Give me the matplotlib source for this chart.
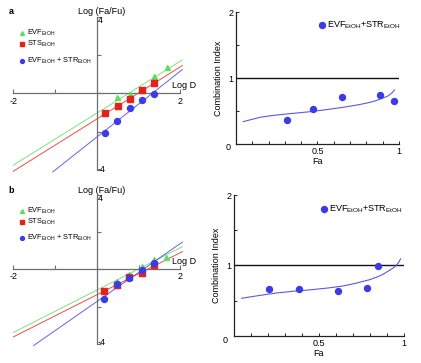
# Median-effect plots and combination index plots (panels a and b)

import numpy as np
import matplotlib.pyplot as plt

plt.rcParams['font.family'] = ['Liberation Sans', 'DejaVu Sans']

# Data
# panel a, median-effect plot: log D vs log(Fa/Fu)
a_evf_x = [0.48, 0.80, 1.08, 1.38, 1.68]
a_evf_y = [-0.21, -0.05, 0.21, 0.88, 1.35]
a_sts_x = [0.20, 0.50, 0.80, 1.08, 1.38]
a_sts_y = [-1.05, -0.67, -0.30, 0.18, 0.53]
a_mix_x = [0.20, 0.48, 0.80, 1.08, 1.38]
a_mix_y = [-2.05, -1.44, -0.75, -0.35, -0.05]

# panel b, median-effect plot
b_evf_x = [0.48, 0.78, 1.08, 1.38, 1.66]
b_evf_y = [-0.61, -0.25, 0.18, 0.54, 0.68]
b_sts_x = [0.18, 0.48, 0.78, 1.08, 1.38]
b_sts_y = [-1.15, -0.86, -0.43, -0.22, 0.23]
b_mix_x = [0.18, 0.48, 0.78, 1.08, 1.38]
b_mix_y = [-1.60, -0.81, -0.49, -0.04, 0.36]

# panel a, combination index
a_ci_fa = [0.314, 0.473, 0.653, 0.886, 0.969]
a_ci = [0.365, 0.53, 0.72, 0.74, 0.65]
a_curve_fa = [0.045, 0.10, 0.147, 0.20, 0.249, 0.35, 0.453, 0.55, 0.657, 0.75, 0.80, 0.85, 0.882, 0.91, 0.933, 0.955, 0.973]
a_curve_ci = [0.34, 0.375, 0.405, 0.425, 0.44, 0.465, 0.49, 0.52, 0.557, 0.595, 0.62, 0.65, 0.68, 0.705, 0.73, 0.77, 0.82]

# panel b, combination index
b_ci_fa = [0.206, 0.384, 0.614, 0.78, 0.845]
b_ci = [0.66, 0.66, 0.645, 0.68, 0.995]
b_curve_fa = [0.045, 0.15, 0.25, 0.35, 0.45, 0.55, 0.643, 0.72, 0.80, 0.85, 0.88, 0.91, 0.927, 0.945, 0.957, 0.97, 0.98]
b_curve_ci = [0.535, 0.575, 0.61, 0.635, 0.655, 0.68, 0.71, 0.75, 0.80, 0.845, 0.88, 0.925, 0.95, 0.98, 1.01, 1.05, 1.095]

green = "#5ddc5d"
red = "#e8201c"
blue = "#3c3ce6"
axis_gray = "#6f6f6f"
fs = 6.5


def median_plot(ax, evf, sts, mix, letter):
    ax.set_xlim(-2.05, 2.15)
    ax.set_ylim(-4.2, 4.2)
    for s in ["top", "right"]:
        ax.spines[s].set_visible(False)
    ax.spines["left"].set_position(("data", 0))
    ax.spines["bottom"].set_position(("data", 0))
    ax.spines["left"].set_bounds(-4, 4)
    ax.spines["bottom"].set_bounds(-2, 2)
    for s in ["left", "bottom"]:
        ax.spines[s].set_color(axis_gray)
        ax.spines[s].set_linewidth(0.9)
    ax.set_xticks([-2, -1, 0, 1, 2])
    ax.set_yticks([-4, -2, 0, 2, 4])
    ax.set_xticklabels([])
    ax.set_yticklabels([])
    ax.tick_params(direction="in", length=3, color=axis_gray, width=0.8)
    ax.patch.set_visible(False)

    # fitted median-effect lines
    styles = [(evf, green, "^", 3.6), (sts, red, "s", 4.2), (mix, blue, "o", 4.3)]
    for (x, y), col, mk, ms in styles:
        m, c = np.polyfit(x, y, 1)
        x0 = max(-2.0, (-4.1 - c) / m)
        xs = np.array([x0, 2.05])
        ax.plot(xs, m * xs + c, color=col, lw=0.7, alpha=0.8, zorder=2, clip_on=False)
    for (x, y), col, mk, ms in styles:
        ax.plot(x, y, linestyle="none", marker=mk, color=col, markersize=ms, zorder=3)

    ax.text(-2, -0.4, "-2", ha="center", va="center", fontsize=fs)
    ax.text(2, -0.4, "2", ha="center", va="center", fontsize=fs)
    ax.text(0.03, 3.8, "4", ha="left", va="center", fontsize=fs)
    ax.text(0.03, -3.95, "-4", ha="left", va="center", fontsize=fs)
    ax.text(0.11, 4.25, "Log (Fa/Fu)", ha="center", va="center", fontsize=fs)
    ax.text(1.8, 0.4, "Log D", ha="left", va="center", fontsize=fs)
    ax.text(-2.06, 4.25, letter, ha="center", va="center", fontsize=fs, fontweight="bold")

    # legend
    lx = -1.8
    ax.plot(lx, 3.15, "^", color=green, markersize=2.8)
    ax.plot(lx, 2.57, "s", color=red, markersize=2.8)
    ax.plot(lx, 1.7, "o", color=blue, markersize=2.8)
    ax.text(lx + 0.14, 3.15, r"EVF$_{\mathregular{EtOH}}$", va="center", fontsize=5.3)
    ax.text(lx + 0.14, 2.57, r"STS$_{\mathregular{EtOH}}$", va="center", fontsize=5.3)
    ax.text(lx + 0.14, 1.7, r"EVF$_{\mathregular{EtOH}}$ + STR$_{\mathregular{EtOH}}$", va="center", fontsize=5.3)


def ci_plot(ax, fa, ci, cfa, cci):
    ax.set_xlim(0, 1)
    ax.set_ylim(0, 2)
    for s in ["top", "right"]:
        ax.spines[s].set_visible(False)
    for s in ["left", "bottom"]:
        ax.spines[s].set_color("#222222")
        ax.spines[s].set_linewidth(0.9)
    ax.set_xticks([0, 0.5, 1])
    ax.set_xticks(np.arange(0, 1.01, 0.1), minor=True)
    ax.set_yticks([0, 1, 2])
    ax.set_yticks([0.5, 1.5], minor=True)
    ax.set_xticklabels(["", "0.5", "1"])
    ax.set_yticklabels(["", "1", "2"])
    ax.tick_params(which="both", direction="in", length=2.5, width=0.6, labelsize=fs, pad=2)
    ax.text(-0.035, -0.06, "0", ha="right", va="center", fontsize=fs, transform=ax.transData, clip_on=False)
    ax.axhline(1, color="#111111", lw=1.0)
    ax.plot(cfa, cci, color="#5a5ae0", lw=0.8)
    ax.plot(fa, ci, linestyle="none", marker="o", color=blue, markersize=4.3, clip_on=False)
    ax.plot(0.53, 1.8, "o", color=blue, markersize=4.3)
    ax.text(0.56, 1.8, r"EVF$_{\mathregular{EtOH}}$+STR$_{\mathregular{EtOH}}$", va="center", fontsize=6.5)
    ax.set_xlabel("Fa", fontsize=fs, labelpad=1)
    ax.set_ylabel("Combination Index", fontsize=fs, labelpad=4)


fig = plt.figure(figsize=(4.21, 3.63), dpi=100)

ax1 = fig.add_axes([0.0266, 0.5212, 0.4166, 0.4433])
median_plot(ax1, (a_evf_x, a_evf_y), (a_sts_x, a_sts_y), (a_mix_x, a_mix_y), "a")

ax3 = fig.add_axes([0.0266, 0.043, 0.4166, 0.430])
median_plot(ax3, (b_evf_x, b_evf_y), (b_sts_x, b_sts_y), (b_mix_x, b_mix_y), "b")

ax2 = fig.add_axes([0.5606, 0.6033, 0.387, 0.363])
ci_plot(ax2, a_ci_fa, a_ci, a_curve_fa, a_curve_ci)

ax4 = fig.add_axes([0.5558, 0.0744, 0.4038, 0.3884])
ci_plot(ax4, b_ci_fa, b_ci, b_curve_fa, b_curve_ci)

fig.savefig("out.png", dpi=100)
